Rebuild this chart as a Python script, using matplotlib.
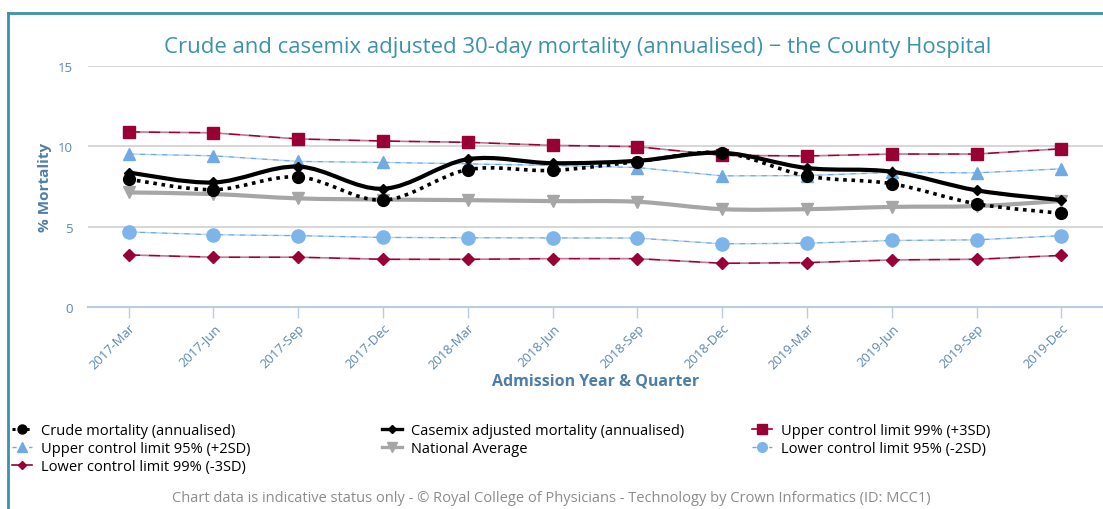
import matplotlib
matplotlib.use("Agg")
import matplotlib.pyplot as plt
from matplotlib.path import Path
from matplotlib.patches import PathPatch
from matplotlib.lines import Line2D
import numpy as np

plt.rcParams['font.family'] = ['Open Sans', 'DejaVu Sans']

quarters = ["2017-Mar", "2017-Jun", "2017-Sep", "2017-Dec", "2018-Mar", "2018-Jun",
            "2018-Sep", "2018-Dec", "2019-Mar", "2019-Jun", "2019-Sep", "2019-Dec"]
crude = [7.95, 7.3, 8.1, 6.65, 8.55, 8.5, 9.05, 9.6, 8.15, 7.67, 6.42, 5.83]
casemix = [8.37, 7.75, 8.74, 7.36, 9.2, 8.95, 9.1, 9.6, 8.65, 8.42, 7.26, 6.65]
upper99 = [10.9, 10.84, 10.46, 10.33, 10.25, 10.06, 9.98, 9.44, 9.4, 9.52, 9.52, 9.85]
upper95 = [9.52, 9.41, 9.06, 9.0, 8.91, 8.81, 8.68, 8.16, 8.18, 8.38, 8.35, 8.6]
national = [7.13, 7.03, 6.76, 6.69, 6.65, 6.59, 6.55, 6.09, 6.09, 6.23, 6.28, 6.6]
lower95 = [4.67, 4.5, 4.44, 4.33, 4.31, 4.3, 4.29, 3.93, 3.97, 4.14, 4.18, 4.44]
lower99 = [3.24, 3.1, 3.1, 2.97, 2.97, 3.01, 3.01, 2.72, 2.76, 2.93, 2.97, 3.21]

TEAL = '#3A93AB'
AXBLUE = '#4E7EA6'
CRIMSON = '#990033'
LBLUE = '#6FAAE4'

fig = plt.figure(figsize=(11.03, 5.10), dpi=100)
ax = fig.add_axes([88/1103, 1-308/510, 1-88/1103, (308-67)/510])

x = np.arange(len(quarters))


def smooth_path(xs, ys, t=1/6):
    # excel-like smoothed line: bezier segments from catmull-rom tangents
    pts = np.column_stack([xs, ys]).astype(float)
    n = len(pts)
    verts = [pts[0]]
    codes = [Path.MOVETO]
    for i in range(n-1):
        p0 = pts[i-1] if i > 0 else pts[i]
        p1 = pts[i]
        p2 = pts[i+1]
        p3 = pts[i+2] if i+2 < n else pts[i+1]
        c1 = p1 + (p2 - p0) * t
        c2 = p2 - (p3 - p1) * t
        verts += [c1, c2, p2]
        codes += [Path.CURVE4]*3
    return Path(verts, codes)


# gridlines
for v in [5, 10, 15]:
    ax.axhline(v, color='#D0D0D0', lw=1.2, zorder=0)

# control limits (straight dashed)
ax.plot(x, upper99, color=CRIMSON, lw=1.2, dashes=(7, 5), gapcolor='#C77595',
        marker='s', ms=9, mec=CRIMSON, mfc=CRIMSON, zorder=3)
ax.plot(x, upper95, color=LBLUE, lw=1.0, dashes=(4, 4), gapcolor='#B5D3F0',
        marker='^', ms=8.5, mec=LBLUE, mfc=LBLUE, zorder=3)
ax.plot(x, lower95, color=LBLUE, lw=1.0, dashes=(4, 4), gapcolor='#B5D3F0',
        marker='o', ms=9.5, mec='#7DB5EA', mfc='#7DB5EA', zorder=3)
ax.plot(x, lower99, color=CRIMSON, lw=1.2, dashes=(7, 5), gapcolor='#C77595',
        marker='D', ms=6, mec=CRIMSON, mfc=CRIMSON, zorder=3)

# smoothed series
ax.add_patch(PathPatch(smooth_path(x, national), fc='none', ec='#A6A6A6', lw=3, zorder=4))
ax.plot(x, national, ls='none', marker='v', ms=9, color='#A6A6A6', zorder=4)
ax.add_patch(PathPatch(smooth_path(x, crude), fc='none', ec='black', lw=2.6,
                       ls=(0, (1, 1.3)), zorder=5))
ax.plot(x, crude, ls='none', marker='o', ms=8.5, color='black', zorder=5)
ax.add_patch(PathPatch(smooth_path(x, casemix), fc='none', ec='black', lw=3, zorder=6))
ax.plot(x, casemix, ls='none', marker='D', ms=5.5, color='black', zorder=6)

ax.set_xlim(-0.48, 11.49)
ax.set_ylim(0, 15)
ax.set_yticks([0, 5, 10, 15])
ax.set_xticks(x)
ax.set_xticklabels(quarters, rotation=45, ha='right', rotation_mode='anchor')
for s in ['top', 'right', 'left']:
    ax.spines[s].set_visible(False)
ax.spines['bottom'].set_color('#BCCCE0')
ax.spines['bottom'].set_linewidth(1.5)
ax.tick_params(axis='x', length=8, width=1, color='#BCCCE0', labelsize=9.4,
               labelcolor='#5B88B3', pad=2)
ax.tick_params(axis='y', length=0, labelsize=9.5, labelcolor='#5B88B3', pad=11)
ax.set_ylabel('% Mortality', fontsize=11, fontweight='bold', color=AXBLUE, labelpad=4)
ax.set_xlabel('Admission Year & Quarter', fontsize=11.5, fontweight='bold', color=AXBLUE)
ax.xaxis.set_label_coords(0.5, (308-382)/241, transform=ax.transAxes)
ax.xaxis.label.set_va('center')

fig.text(578/1103, 1-47/510, 'Crude and casemix adjusted 30-day mortality (annualised) \u2212 the County Hospital',
         ha='center', va='center', fontsize=15.9, color=TEAL)
fig.text(551/1103, 1-499/510,
         'Chart data is indicative status only - \u00a9 Royal College of Physicians - Technology by Crown Informatics (ID: MCC1)',
         ha='center', va='center', fontsize=10.5, color='#8C8C8C')

# border
fig.add_artist(Line2D([8/1103, 8/1103], [0, 1-14/510], color=TEAL, lw=2))
fig.add_artist(Line2D([8/1103, 1], [1-14/510, 1-14/510], color=TEAL, lw=2))

# legend in three columns
h_crude = Line2D([], [], color='black', lw=2.2, ls=(0, (1, 1.3)), marker='o', ms=6.5)
h_case = Line2D([], [], color='black', lw=2.4, marker='D', ms=4.5)
h_u99 = Line2D([], [], color=CRIMSON, lw=1.2, marker='s', ms=7)
h_u95 = Line2D([], [], color=LBLUE, lw=1, dashes=(3, 3), marker='^', ms=6.5)
h_nat = Line2D([], [], color='#A6A6A6', lw=2.4, marker='v', ms=6.5)
h_l95 = Line2D([], [], color=LBLUE, lw=1, dashes=(3, 3), marker='o', ms=7, mfc='#7DB5EA', mec='#7DB5EA')
h_l99 = Line2D([], [], color=CRIMSON, lw=1.2, marker='D', ms=4.5)

cols = [
    ([h_crude, h_u95, h_l99], ['Crude mortality (annualised)', 'Upper control limit 95% (+2SD)',
                               'Lower control limit 99% (-3SD)'], 12),
    ([h_case, h_nat], ['Casemix adjusted mortality (annualised)', 'National Average'], 382),
    ([h_u99, h_l95], ['Upper control limit 99% (+3SD)', 'Lower control limit 95% (-2SD)'], 752),
]
for hs, ls_, xpx in cols:
    fig.legend(hs, ls_, loc='upper left', bbox_to_anchor=(xpx/1103, 1-424/510),
               frameon=False, fontsize=10.5, handlelength=1.4, handletextpad=0.6,
               labelspacing=0.22, borderpad=0, borderaxespad=0)

fig.savefig('out.png', dpi=100)
